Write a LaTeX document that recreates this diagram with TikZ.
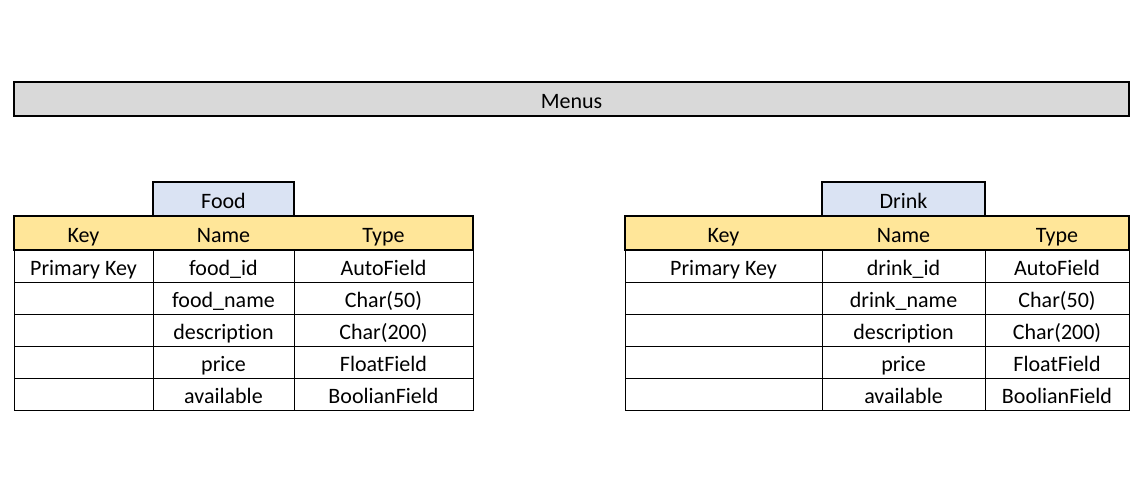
\documentclass[tikz,border=0pt]{standalone}
\usepackage{fontspec}
\setmainfont{Carlito}[Ligatures={NoCommon,NoContextual}]
\definecolor{menugray}{HTML}{D9D9D9}
\definecolor{hdrgold}{HTML}{FFE699}
\definecolor{titleblue}{HTML}{DAE3F3}
\begin{document}
\begin{tikzpicture}[x=1pt,y=-1pt,
  every node/.style={font=\fontsize{22}{26}\selectfont, text=black, text height=18pt, text depth=0pt},
  cell/.style={draw=black, line width=1pt, minimum height=32, inner sep=0pt},
  hdrtext/.style={inner sep=0pt},
  hdrbar/.style={draw=black, line width=2.3pt, fill=hdrgold, minimum height=34, inner sep=0pt},
  titlebox/.style={draw=black, line width=1.6pt, fill=titleblue, minimum height=34, inner sep=0pt},
  menubar/.style={draw=black, line width=2.3pt, fill=menugray, minimum height=34, inner sep=0pt}]
\useasboundingbox (0,0) rectangle (1147,480);
\fill[white] (0,0) rectangle (1147,480);

% Menus bar
\node[menubar, minimum width=1115] (menus) at (571.5,99) {Menus};

% ---------- Food table ----------
\node[titlebox, minimum width=141] (foodtitle) at (223.5,199) {Food};
\foreach \r/\k/\n/\t in {1/Primary Key/food\_id/AutoField,
                          2//food\_name/Char(50),
                          3//descrip\kern0pt tion/Char(200),
                          4//price/FloatField,
                          5//available/BoolianField}{
  \node[cell, minimum width=139] (f\r a) at (83.5,{234+32*\r}) {\k};
  \node[cell, minimum width=141] (f\r b) at (223.5,{234+32*\r}) {\n};
  \node[cell, minimum width=179] (f\r c) at (383.5,{234+32*\r}) {\t};
}
\node[hdrbar, minimum width=459] (fhdr) at (243.5,233) {};
\node[hdrtext] (fhk) at (83.5,233) {Key};
\node[hdrtext] (fhn) at (223.5,233) {Name};
\node[hdrtext] (fht) at (383.5,233) {Type};

% ---------- Drink table ----------
\node[titlebox, minimum width=163] (drinktitle) at (903.5,199) {Drink};
\foreach \r/\k/\n/\t in {1/Primary Key/drink\_id/AutoField,
                          2//drink\_name/Char(50),
                          3//descrip\kern0pt tion/Char(200),
                          4//price/FloatField,
                          5//available/BoolianField}{
  \node[cell, minimum width=197] (d\r a) at (723.5,{234+32*\r}) {\k};
  \node[cell, minimum width=163] (d\r b) at (903.5,{234+32*\r}) {\n};
  \node[cell, minimum width=144] (d\r c) at (1057,{234+32*\r}) {\t};
}
\node[hdrbar, minimum width=504] (dhdr) at (877,233) {};
\node[hdrtext] (dhk) at (723.5,233) {Key};
\node[hdrtext] (dhn) at (903.5,233) {Name};
\node[hdrtext] (dht) at (1057,233) {Type};
\end{tikzpicture}
\end{document}
